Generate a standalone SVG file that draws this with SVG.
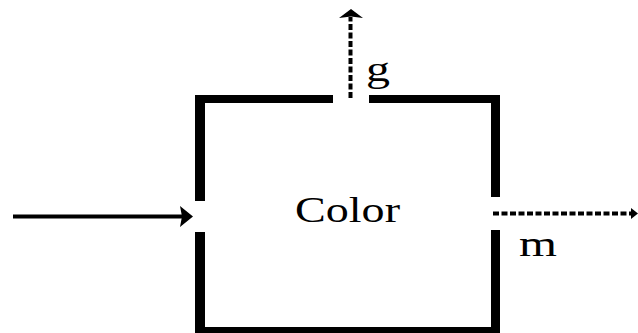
<svg xmlns="http://www.w3.org/2000/svg" width="638" height="333" viewBox="0 0 638 333">
<style>
.wall{fill:#000}
.lbl{font-family:"Liberation Serif","DejaVu Serif",serif;font-size:36px;fill:#000}
.dash{stroke:#000;stroke-width:4;stroke-dasharray:6 2.5;fill:none}
.solid{stroke:#000;stroke-width:4;fill:none}
.head{fill:#000}
</style>
<rect width="638" height="333" fill="#fff"/>
<g id="color">
<rect class="wall" x="195" y="95" width="138" height="8"/>
<rect class="wall" x="369" y="95" width="131" height="8"/>
<rect class="wall" x="195" y="95" width="10" height="106"/>
<rect class="wall" x="195" y="232" width="10" height="101"/>
<rect class="wall" x="491" y="95" width="9" height="102"/>
<rect class="wall" x="491" y="230" width="9" height="103"/>
<rect class="wall" x="195" y="327" width="305" height="6"/>
<text class="lbl" x="295" y="222" textLength="105" lengthAdjust="spacingAndGlyphs">Color</text>
</g>
<g id="connectors">
<line class="solid" x1="13" y1="216.5" x2="183" y2="216.5"/>
<polygon class="head" points="180,206 193,216.5 180,227 182,216.5"/>
<line class="dash" x1="350.5" y1="98" x2="350.5" y2="17"/>
<polygon class="head" points="339,18 351,9 363,18 351,16.5"/>
<line class="dash" x1="493" y1="213.5" x2="633" y2="213.5"/>
<polygon class="head" points="631,208 638,213.5 631,219"/>
</g>
<g id="labels">
<text class="lbl" x="366" y="81" textLength="24" lengthAdjust="spacingAndGlyphs">g</text>
<text class="lbl" x="519" y="256" textLength="38" lengthAdjust="spacingAndGlyphs">m</text>
</g>
</svg>
